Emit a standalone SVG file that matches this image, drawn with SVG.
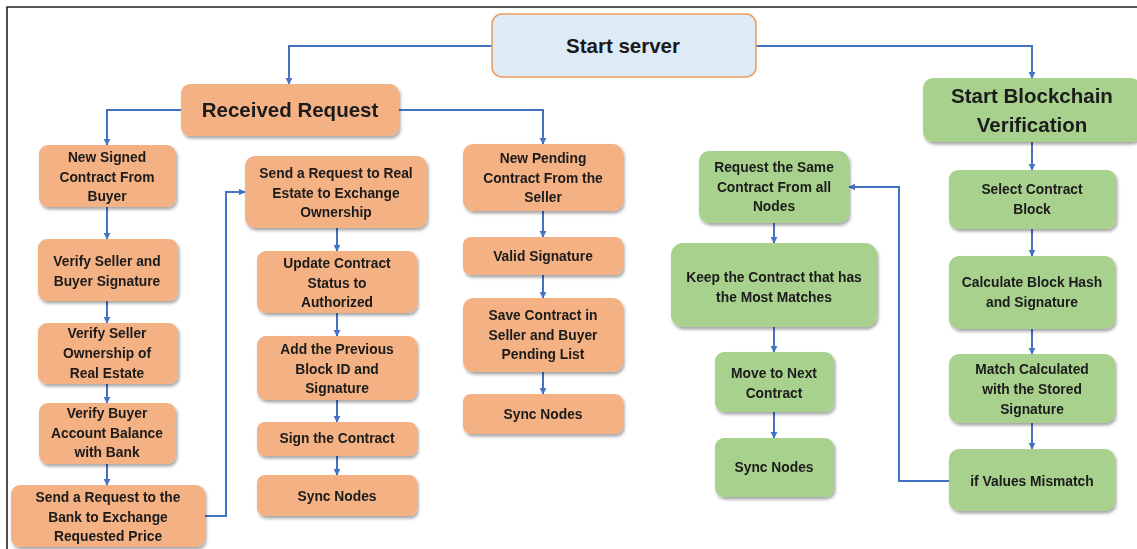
<svg xmlns="http://www.w3.org/2000/svg" width="1137" height="549" viewBox="0 0 1137 549">
<style>
.o{fill:#F4B183;}
.g{fill:#A9D18E;}
.b{fill:#DEEBF7;stroke:#F09A5A;stroke-width:1.5;}
.n{filter:url(#sh);}
text{font-family:"Liberation Sans",Arial,sans-serif;font-weight:bold;fill:#1a1a1a;text-anchor:middle;}
.s{font-size:13.8px;}
.L{font-size:20.5px;}
.c{fill:none;stroke:#4472C4;stroke-width:2;marker-end:url(#ah);}
.c2{fill:none;stroke:#4472C4;stroke-width:2;}
</style>
<defs>
<filter id="sh" x="-10%" y="-10%" width="130%" height="140%">
<feDropShadow dx="1.5" dy="2.5" stdDeviation="1.5" flood-color="#000" flood-opacity="0.35"/>
</filter>
<marker id="ah" viewBox="0 0 10 10" refX="9" refY="5" markerWidth="3.6" markerHeight="3.6" orient="auto" markerUnits="strokeWidth">
<path d="M0,0 L10,5 L0,10 z" fill="#4472C4"/>
</marker>
</defs>
<rect x="0" y="0" width="1137" height="549" fill="#fff"/>
<path d="M7,549 V7 H1137" fill="none" stroke="#222" stroke-width="1.6"/>

<g id="connectors">
<path class="c" d="M492,46 H289 V84"/>
<path class="c" d="M756,46 H1032 V78"/>
<path class="c" d="M181,110 H107 V145"/>
<path class="c" d="M399,110 H543 V144"/>
<path class="c" d="M107,207 V239"/>
<path class="c" d="M107,301 V323"/>
<path class="c" d="M107,384 V403"/>
<path class="c" d="M107,464 V485"/>
<path class="c" d="M205,516 H226 V192 H245"/>
<path class="c" d="M337,228 V251"/>
<path class="c" d="M337,313 V336"/>
<path class="c" d="M337,400 V422"/>
<path class="c" d="M337,456 V475"/>
<path class="c" d="M543,211 V237"/>
<path class="c" d="M543,275 V298"/>
<path class="c" d="M543,372 V394"/>
<path class="c" d="M774,223 V243"/>
<path class="c" d="M774,327 V352"/>
<path class="c" d="M774,412 V438"/>
<path class="c" d="M1032,142 V170"/>
<path class="c" d="M1032,229 V256"/>
<path class="c" d="M1032,329 V354"/>
<path class="c" d="M1032,423 V449"/>
<path class="c" d="M949,481 H899 V187 H849"/>
</g>

<g id="start-server">
<rect class="b" x="492" y="14" width="264" height="63" rx="10"/>
<text class="L" x="623" y="53">Start server</text>
</g>

<g id="received-request" class="n">
<rect class="o" x="181" y="84" width="218" height="52" rx="9"/>
<text class="L" x="290" y="117">Received Request</text>
</g>

<g id="start-blockchain" class="n">
<rect class="g" x="923" y="78" width="218" height="64" rx="10"/>
<text class="L" x="1032" y="103">Start Blockchain</text>
<text class="L" x="1032" y="132">Verification</text>
</g>

<g id="new-signed" class="n">
<rect class="o" x="39" y="145" width="137" height="62" rx="9"/>
<text class="s" x="107" y="162">New Signed</text>
<text class="s" x="107" y="182">Contract From</text>
<text class="s" x="107" y="201">Buyer</text>
</g>

<g id="verify-signature" class="n">
<rect class="o" x="38" y="239" width="140" height="62" rx="9"/>
<text class="s" x="107" y="266">Verify Seller and</text>
<text class="s" x="107" y="286">Buyer Signature</text>
</g>

<g id="verify-ownership" class="n">
<rect class="o" x="38" y="323" width="140" height="61" rx="9"/>
<text class="s" x="107" y="338">Verify Seller</text>
<text class="s" x="107" y="358">Ownership of</text>
<text class="s" x="107" y="378">Real Estate</text>
</g>

<g id="verify-balance" class="n">
<rect class="o" x="39" y="403" width="137" height="61" rx="9"/>
<text class="s" x="107" y="418">Verify Buyer</text>
<text class="s" x="107" y="438">Account Balance</text>
<text class="s" x="107" y="457">with Bank</text>
</g>

<g id="send-bank" class="n">
<rect class="o" x="11" y="485" width="194" height="62" rx="9"/>
<text class="s" x="108" y="502">Send a Request to the</text>
<text class="s" x="108" y="522">Bank to Exchange</text>
<text class="s" x="108" y="541">Requested Price</text>
</g>

<g id="send-real-estate" class="n">
<rect class="o" x="245" y="156" width="182" height="72" rx="10"/>
<text class="s" x="336" y="178">Send a Request to Real</text>
<text class="s" x="336" y="198">Estate to Exchange</text>
<text class="s" x="336" y="217">Ownership</text>
</g>

<g id="update-status" class="n">
<rect class="o" x="257" y="251" width="160" height="62" rx="9"/>
<text class="s" x="337" y="268">Update Contract</text>
<text class="s" x="337" y="288">Status to</text>
<text class="s" x="337" y="307">Authorized</text>
</g>

<g id="add-previous" class="n">
<rect class="o" x="257" y="336" width="160" height="64" rx="9"/>
<text class="s" x="337" y="354">Add the Previous</text>
<text class="s" x="337" y="374">Block ID and</text>
<text class="s" x="337" y="393">Signature</text>
</g>

<g id="sign-contract" class="n">
<rect class="o" x="257" y="422" width="160" height="34" rx="8"/>
<text class="s" x="337" y="443">Sign the Contract</text>
</g>

<g id="sync-nodes-1" class="n">
<rect class="o" x="257" y="475" width="160" height="41" rx="8"/>
<text class="s" x="337" y="501">Sync Nodes</text>
</g>

<g id="new-pending" class="n">
<rect class="o" x="463" y="144" width="160" height="67" rx="10"/>
<text class="s" x="543" y="163">New Pending</text>
<text class="s" x="543" y="183">Contract From the</text>
<text class="s" x="543" y="202">Seller</text>
</g>

<g id="valid-signature" class="n">
<rect class="o" x="463" y="237" width="160" height="38" rx="8"/>
<text class="s" x="543" y="261">Valid Signature</text>
</g>

<g id="save-contract" class="n">
<rect class="o" x="463" y="298" width="160" height="74" rx="10"/>
<text class="s" x="543" y="320">Save Contract in</text>
<text class="s" x="543" y="340">Seller and Buyer</text>
<text class="s" x="543" y="359">Pending List</text>
</g>

<g id="sync-nodes-2" class="n">
<rect class="o" x="463" y="394" width="160" height="40" rx="8"/>
<text class="s" x="543" y="419">Sync Nodes</text>
</g>

<g id="request-same" class="n">
<rect class="g" x="699" y="151" width="150" height="72" rx="10"/>
<text class="s" x="774" y="172">Request the Same</text>
<text class="s" x="774" y="192">Contract From all</text>
<text class="s" x="774" y="211">Nodes</text>
</g>

<g id="keep-contract" class="n">
<rect class="g" x="671" y="243" width="206" height="84" rx="12"/>
<text class="s" x="774" y="282">Keep the Contract that has</text>
<text class="s" x="774" y="302">the Most Matches</text>
</g>

<g id="move-next" class="n">
<rect class="g" x="715" y="352" width="119" height="60" rx="9"/>
<text class="s" x="774" y="378">Move to Next</text>
<text class="s" x="774" y="398">Contract</text>
</g>

<g id="sync-nodes-3" class="n">
<rect class="g" x="715" y="438" width="119" height="59" rx="9"/>
<text class="s" x="774" y="472">Sync Nodes</text>
</g>

<g id="select-block" class="n">
<rect class="g" x="949" y="170" width="167" height="59" rx="9"/>
<text class="s" x="1032" y="194">Select Contract</text>
<text class="s" x="1032" y="214">Block</text>
</g>

<g id="calc-hash" class="n">
<rect class="g" x="949" y="256" width="166" height="73" rx="10"/>
<text class="s" x="1032" y="287">Calculate Block Hash</text>
<text class="s" x="1032" y="307">and Signature</text>
</g>

<g id="match-calc" class="n">
<rect class="g" x="949" y="354" width="166" height="69" rx="10"/>
<text class="s" x="1032" y="374">Match Calculated</text>
<text class="s" x="1032" y="394">with the Stored</text>
<text class="s" x="1032" y="414">Signature</text>
</g>

<g id="mismatch" class="n">
<rect class="g" x="949" y="449" width="166" height="62" rx="10"/>
<text class="s" x="1032" y="486">if Values Mismatch</text>
</g>
</svg>
